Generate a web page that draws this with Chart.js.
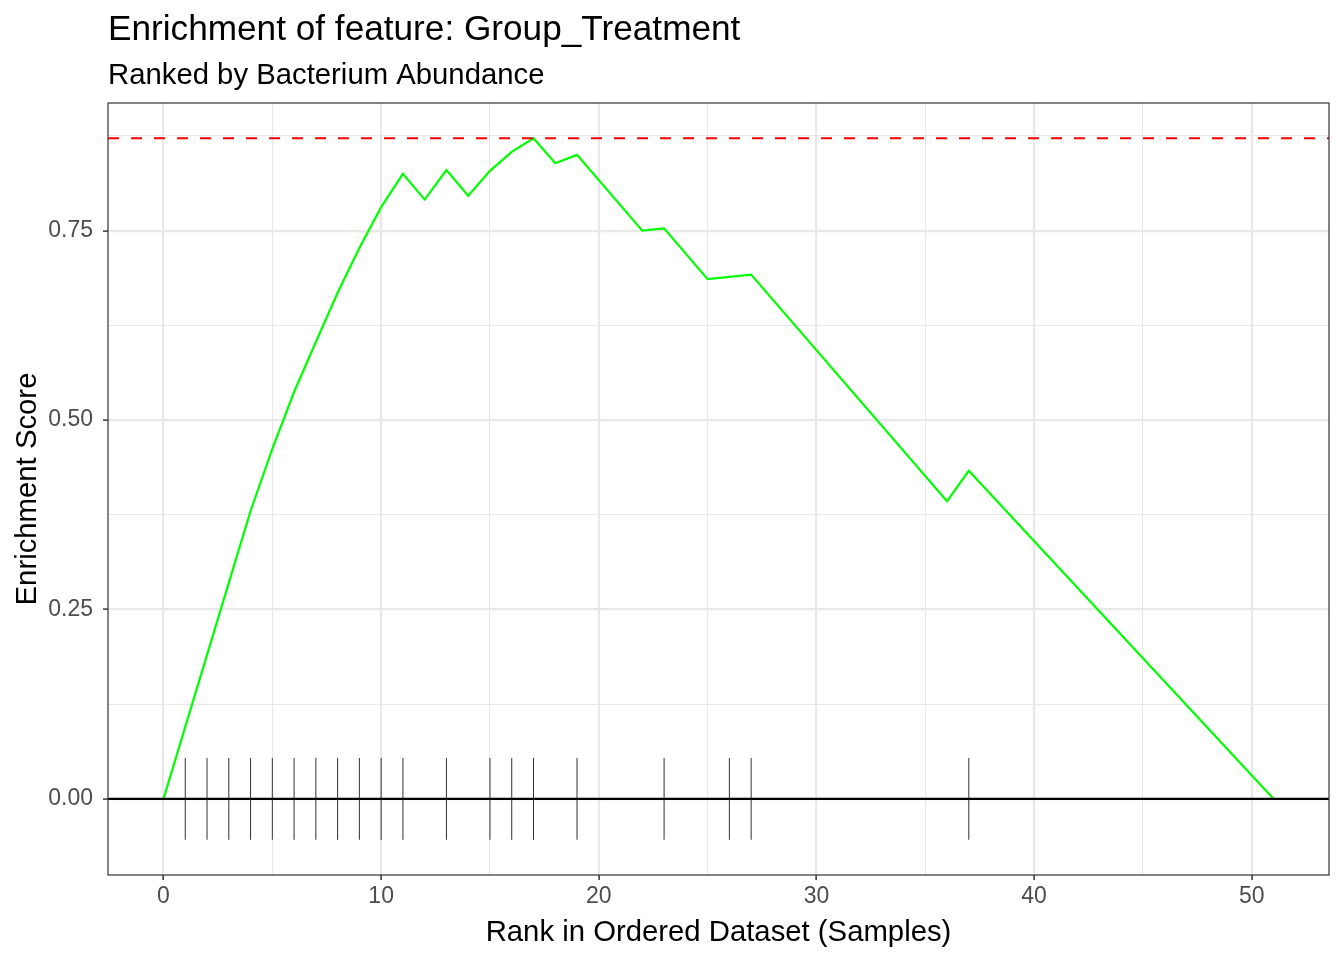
<!DOCTYPE html>
<html>
<head>
<meta charset="utf-8">
<script src="https://cdn.jsdelivr.net/npm/chart.js@4.4.0/dist/chart.umd.min.js"></script>
<style>
body { margin: 0; background: #ffffff; }
</style>
</head>
<body>
<canvas id="esChart" width="1344" height="960"></canvas>
<script>
// running enrichment score (only the ranks where the line bends)
const ranks = [0, 1, 2, 3, 4, 5, 6, 7, 8, 9, 10, 11, 12, 13, 14, 15, 16, 17, 18, 19, 22, 23, 25, 27, 36, 37, 51];
const scores = [0, 0.095, 0.19, 0.285, 0.38, 0.462, 0.537, 0.603, 0.668, 0.727, 0.781, 0.825, 0.791, 0.830, 0.796, 0.829, 0.854, 0.872, 0.839, 0.850, 0.750, 0.753, 0.686, 0.692, 0.393, 0.433, 0];
// ranks of the samples carrying the feature
const hitRanks = [1, 2, 3, 4, 5, 6, 7, 8, 9, 10, 11, 13, 15, 16, 17, 19, 23, 26, 27, 37];
const hitHalf = 0.054;
const maxScore = 0.872;

const xTicks = [0, 5, 10, 15, 20, 25, 30, 35, 40, 45, 50];
const yTicks = [0, 0.125, 0.25, 0.375, 0.5, 0.625, 0.75, 0.875];
const xRange = [-2.55, 53.55];
const yRange = [-0.1005, 0.9185];

const FONT = '"Liberation Sans", Arial, Helvetica, sans-serif';

const isMajorX = v => Math.abs(v % 10) < 1e-9;
const isMajorY = v => Math.abs((v / 0.25) - Math.round(v / 0.25)) < 1e-9;

// hit ticks as short vertical segments, broken by null points
const hitData = [];
hitRanks.forEach(r => {
    hitData.push({ x: r, y: -hitHalf }, { x: r, y: hitHalf }, { x: r, y: null });
});

const panelBorder = {
    id: 'panelBorder',
    afterDatasetsDraw(chart) {
        const { ctx, chartArea: a } = chart;
        ctx.save();
        ctx.strokeStyle = '#333333';
        ctx.lineWidth = 1.2;
        ctx.strokeRect(a.left, a.top, a.right - a.left, a.bottom - a.top);
        ctx.restore();
    }
};

const headings = {
    id: 'headings',
    afterDraw(chart) {
        const ctx = chart.ctx;
        const left = chart.chartArea.left;
        ctx.save();
        ctx.fillStyle = '#000000';
        ctx.textBaseline = 'alphabetic';
        ctx.textAlign = 'left';
        ctx.font = '35.2px ' + FONT;
        ctx.fillText('Enrichment of feature: Group_Treatment', left, 40);
        ctx.font = '29.3px ' + FONT;
        ctx.fillText('Ranked by Bacterium Abundance', left, 84);
        ctx.restore();
    }
};

const ctx = document.getElementById('esChart').getContext('2d');
new Chart(ctx, {
    type: 'line',
    data: {
        datasets: [
            {
                label: 'max',
                data: [{ x: xRange[0], y: maxScore }, { x: xRange[1], y: maxScore }],
                borderColor: '#FF0000',
                borderWidth: 2.2,
                borderDash: [11, 12],
                pointRadius: 0,
                order: 1
            },
            {
                label: 'zero',
                data: [{ x: xRange[0], y: 0 }, { x: xRange[1], y: 0 }],
                borderColor: '#000000',
                borderWidth: 2.2,
                pointRadius: 0,
                order: 2
            },
            {
                label: 'Enrichment Score',
                data: ranks.map((r, i) => ({ x: r, y: scores[i] })),
                borderColor: '#00FF00',
                borderWidth: 2.2,
                pointRadius: 0,
                tension: 0,
                order: 3
            },
            {
                label: 'hits',
                data: hitData,
                borderColor: '#333333',
                borderWidth: 1,
                pointRadius: 0,
                spanGaps: false,
                order: 4
            }
        ]
    },
    options: {
        responsive: false,
        animation: false,
        events: [],
        layout: { padding: { top: 103, right: 15, left: 0, bottom: 0 } },
        plugins: {
            legend: { display: false },
            tooltip: { enabled: false },
            title: { display: false }
        },
        scales: {
            x: {
                type: 'linear',
                min: xRange[0],
                max: xRange[1],
                afterBuildTicks: s => { s.ticks = xTicks.map(v => ({ value: v })); },
                afterFit: s => { s.height = 85; },
                border: { display: false },
                grid: {
                    color: '#E8E8E8',
                    lineWidth: c => (c.tick && isMajorX(c.tick.value)) ? 2.2 : 1.1,
                    tickLength: 5,
                    tickWidth: 1.5,
                    tickColor: c => (c.tick && isMajorX(c.tick.value)) ? '#333333' : 'rgba(0,0,0,0)'
                },
                ticks: {
                    autoSkip: false,
                    maxRotation: 0,
                    padding: 3,
                    color: '#4D4D4D',
                    font: { family: FONT, size: 23 },
                    callback: v => isMajorX(v) ? String(v) : ''
                },
                title: {
                    display: true,
                    text: 'Rank in Ordered Dataset (Samples)',
                    color: '#000000',
                    font: { family: FONT, size: 29.3 },
                    padding: { top: 0, bottom: 10 }
                }
            },
            y: {
                type: 'linear',
                min: yRange[0],
                max: yRange[1],
                afterBuildTicks: s => { s.ticks = yTicks.map(v => ({ value: v })); },
                afterFit: s => { s.width = 108; },
                border: { display: false },
                grid: {
                    color: '#E8E8E8',
                    lineWidth: c => (c.tick && isMajorY(c.tick.value)) ? 2.2 : 1.1,
                    tickLength: 5,
                    tickWidth: 1.5,
                    tickColor: c => (c.tick && isMajorY(c.tick.value)) ? '#333333' : 'rgba(0,0,0,0)'
                },
                ticks: {
                    autoSkip: false,
                    padding: 10,
                    color: '#4D4D4D',
                    font: { family: FONT, size: 23 },
                    callback: v => isMajorY(v) ? v.toFixed(2) : ''
                },
                title: {
                    display: true,
                    text: 'Enrichment Score',
                    color: '#000000',
                    font: { family: FONT, size: 29.3 },
                    padding: { top: 10, bottom: 0 }
                }
            }
        }
    },
    plugins: [panelBorder, headings]
});
</script>
</body>
</html>
